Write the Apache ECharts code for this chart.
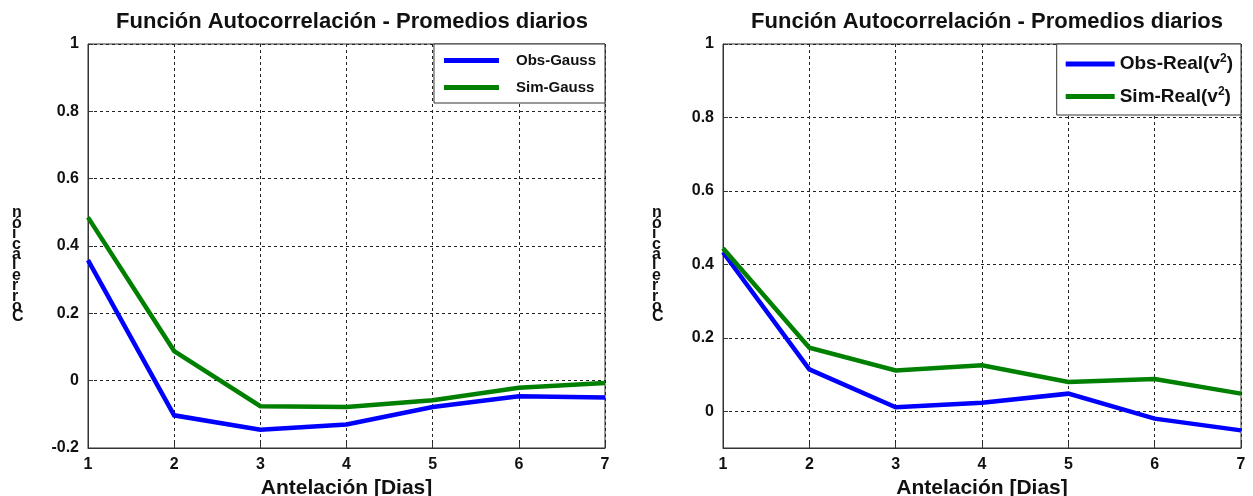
<!DOCTYPE html>
<html>
<head>
<meta charset="utf-8">
<script src="https://cdn.jsdelivr.net/npm/echarts@6/dist/echarts.min.js"></script>
<style>
  html, body { margin: 0; padding: 0; background: #fff; }
  #chart { width: 1253px; height: 496px; }
</style>
</head>
<body>
<div id="chart"></div>
<script>
// Lags in days
const lags = [1, 2, 3, 4, 5, 6, 7];

// Left panel: Gaussian-transformed series
const obsGauss = [0.358, -0.103, -0.146, -0.130, -0.078, -0.046, -0.050];
const simGauss = [0.485, 0.088, -0.076, -0.078, -0.058, -0.021, -0.007];

// Right panel: real-valued series (v^2)
const obsReal = [0.433, 0.114, 0.011, 0.023, 0.048, -0.020, -0.052];
const simReal = [0.444, 0.173, 0.111, 0.125, 0.080, 0.088, 0.048];

const leftYTicks = [-0.2, 0, 0.2, 0.4, 0.6, 0.8, 1];
const rightYTicks = [0, 0.2, 0.4, 0.6, 0.8, 1];

const titleText = 'Función Autocorrelación - Promedios diarios';
const xName = 'Antelación [Dias]';
const yName = 'Correlación';

const FONT = '"Liberation Sans", Arial, Helvetica, sans-serif';
const BLUE = '#0000ff';
const GREEN = '#008000';

// upright letters stacked bottom-to-top
const stackedYName = yName.split('').reverse().join('\n');

const pairs = (ys) => lags.map((x, i) => [x, ys[i]]);

function xAxisFor(gridIndex) {
  return {
    type: 'value', gridIndex, min: 1, max: 7, interval: 1,
    name: xName, nameLocation: 'middle', nameGap: 29,
    nameTextStyle: { fontFamily: FONT, fontWeight: 'bold', fontSize: 21, color: '#111' },
    axisLine: { show: true, onZero: false, lineStyle: { color: '#333', width: 1 } },
    axisTick: { show: true, inside: true, length: 5, lineStyle: { color: '#333' } },
    axisLabel: { fontFamily: FONT, fontWeight: 'bold', fontSize: 16, color: '#111', margin: 9 },
    splitLine: { show: true, lineStyle: { color: '#222', type: [3, 3], width: 1 } }
  };
}

function yAxisFor(gridIndex, min, ticks, interval) {
  const ax = {
    type: 'value', gridIndex, min, max: 1,
    axisLine: { show: true, onZero: false, lineStyle: { color: '#333', width: 1 } },
    axisTick: { show: true, inside: true, length: 5, lineStyle: { color: '#333' } },
    axisLabel: { fontFamily: FONT, fontWeight: 'bold', fontSize: 16, color: '#111', margin: 9,
                 formatter: (v) => String(Math.round(v * 10) / 10) },
    splitLine: { show: true, lineStyle: { color: '#222', type: [3, 3], width: 1 } }
  };
  if (interval) {
    ax.interval = interval;
  } else {
    ax.axisLabel.customValues = ticks;
    ax.axisTick.customValues = ticks;
  }
  return ax;
}

function lineSeries(name, ys, color, idx) {
  return {
    name, type: 'line', xAxisIndex: idx, yAxisIndex: idx,
    data: pairs(ys), showSymbol: false, symbol: 'none',
    lineStyle: { color, width: 4.5, join: 'miter', cap: 'butt' },
    itemStyle: { color },
    z: 5, animation: false
  };
}

// stacked y-axis caption, one per panel
function yCaption(x) {
  return {
    type: 'text', left: x, top: 205, z: 10,
    style: {
      text: stackedYName, fill: '#111', align: 'center',
      font: 'bold 16px ' + FONT, lineHeight: 10.4
    }
  };
}

const legendBase = {
  orient: 'vertical', icon: 'rect', itemHeight: 5,
  borderColor: '#333', borderWidth: 1, backgroundColor: '#fff'
};

const titleStyle = { fontFamily: FONT, fontWeight: 'bold', fontSize: 22, color: '#111' };

const chart = echarts.init(document.getElementById('chart'), null, { renderer: 'canvas' });

chart.setOption({
  animation: false,
  backgroundColor: '#fff',
  title: [
    { text: titleText, left: 347, top: 6, textAlign: 'center', textStyle: titleStyle },
    { text: titleText, left: 982, top: 6, textAlign: 'center', textStyle: titleStyle }
  ],
  grid: [
    { left: 88, right: 648, top: 44, bottom: 48, outerBoundsMode: 'none', containLabel: false,
      show: true, borderColor: '#333', borderWidth: 1, backgroundColor: '#fff' },
    { left: 723, right: 12, top: 44, bottom: 48, outerBoundsMode: 'none', containLabel: false,
      show: true, borderColor: '#333', borderWidth: 1, backgroundColor: '#fff' }
  ],
  xAxis: [xAxisFor(0), xAxisFor(1)],
  yAxis: [
    yAxisFor(0, -0.2, leftYTicks, 0.2),
    yAxisFor(1, -0.1, rightYTicks, null)
  ],
  legend: [
    Object.assign({}, legendBase, {
      data: ['Obs-Gauss', 'Sim-Gauss'],
      right: 648, top: 44, padding: [9, 9, 8, 10], itemGap: 12, itemWidth: 55,
      textStyle: { fontFamily: FONT, fontWeight: 'bold', fontSize: 15, color: '#111', padding: [0, 0, 0, 12] }
    }),
    Object.assign({}, legendBase, {
      data: ['Obs-Real(v2)', 'Sim-Real(v2)'],
      right: 12, top: 44, padding: [9, 8, 9, 9], itemGap: 12, itemWidth: 49,
      formatter: (n) => '{b|' + n.replace('(v2)', '(v') + '}{s|2}{b|)}',
      textStyle: {
        fontFamily: FONT, fontWeight: 'bold', fontSize: 19, color: '#111',
        rich: {
          b: { fontFamily: FONT, fontWeight: 'bold', fontSize: 19, color: '#111' },
          s: { fontFamily: FONT, fontWeight: 'bold', fontSize: 12, color: '#111', verticalAlign: 'top', padding: [0, 0, 10, 0] }
        }
      }
    })
  ],
  graphic: [yCaption(12), yCaption(652)],
  series: [
    lineSeries('Obs-Gauss', obsGauss, BLUE, 0),
    lineSeries('Sim-Gauss', simGauss, GREEN, 0),
    lineSeries('Obs-Real(v2)', obsReal, BLUE, 1),
    lineSeries('Sim-Real(v2)', simReal, GREEN, 1)
  ]
});
</script>
</body>
</html>
